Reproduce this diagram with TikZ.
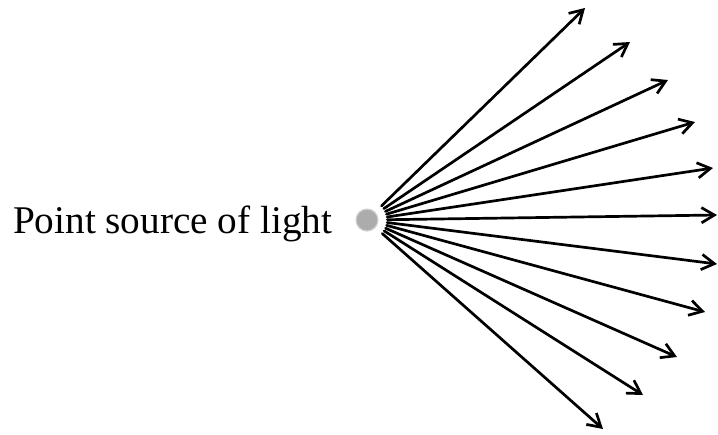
\documentclass[tikz,border=0pt]{standalone}
\usepackage{fontspec}
\setmainfont{Liberation Serif}
\usetikzlibrary{arrows.meta, positioning}

\begin{document}
\begin{tikzpicture}[x=0.03cm, y=-0.03cm, >={Straight Barb[length=11pt, width=13pt]},
    source/.style={circle, fill=gray!65, draw=gray!35, line width=1pt, minimum size=0.66cm, inner sep=0pt, outer sep=0.28cm},
    ray/.style={->, line width=2.3pt, line cap=round}]
        \useasboundingbox (0,0) rectangle (718,434);
        % Source
        \node[source] (src) at (367,220) {};
        \node[left=0.42cm of src, inner sep=0pt, yshift=-0.12cm, font=\fontsize{33.5}{40}\selectfont] (label) {Point source of light};

        % Rays
        \foreach \i/\x/\y in {1/585/8, 2/630/42, 3/668/80, 4/695/122, 5/713/168, 6/717/215,
                              7/717/264, 8/705/312, 9/677/357, 10/643/395, 11/603/429} {
            \coordinate (tip\i) at (\x,\y);
            \draw[ray] (src) -- (tip\i);
        }
\end{tikzpicture}
\end{document}
